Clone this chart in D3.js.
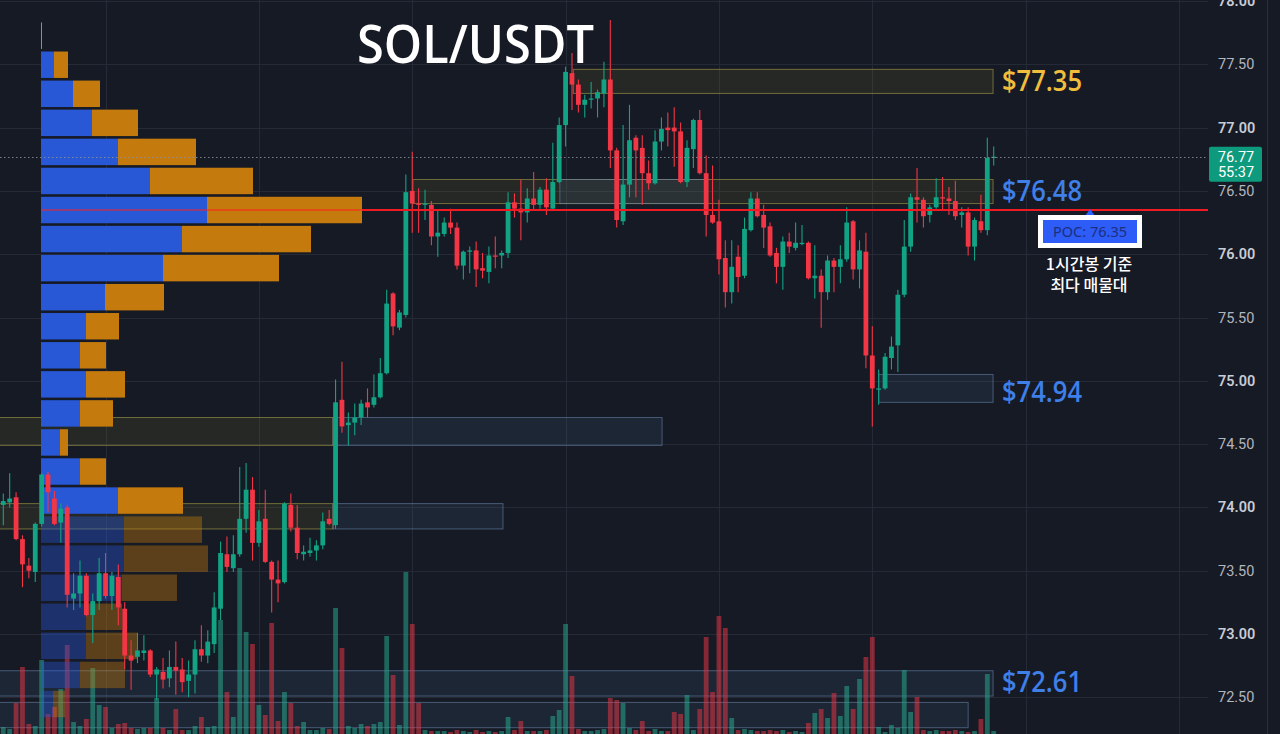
<!DOCTYPE html>
<html><head><meta charset="utf-8">
<script src="https://cdn.jsdelivr.net/npm/d3@7"></script>
<style>html,body{margin:0;padding:0;background:#161a25;overflow:hidden}</style>
</head><body><svg id="c" width="1280" height="734"></svg>
<script>
// ---------- DATA ----------
const ohlc = [
[74.02,74.11,73.86,74.05],[74.04,74.27,74.00,74.07],[74.08,74.12,73.74,73.75],[73.75,73.78,73.37,73.55],[73.54,73.60,73.44,73.50],
[73.49,73.88,73.41,73.87],[73.87,74.27,73.85,74.26],[74.26,74.28,73.96,74.12],[74.07,74.13,73.86,73.87],[73.88,74.03,73.72,73.99],
[74.00,74.02,73.21,73.31],[73.28,73.48,73.19,73.32],[73.32,73.58,73.21,73.46],[73.46,73.48,73.14,73.15],[73.15,73.32,72.93,73.26],
[73.26,73.60,73.19,73.48],[73.48,73.64,73.28,73.30],[73.30,73.49,73.19,73.46],[73.45,73.55,73.07,73.21],[73.20,73.25,72.72,72.83],
[72.83,72.95,72.56,72.79],[72.82,73.01,72.77,72.87],[72.85,72.99,72.79,72.87],[72.87,72.88,72.66,72.68],[72.68,72.74,72.48,72.72],
[72.70,72.81,72.57,72.64],[72.65,72.87,72.58,72.74],[72.74,72.94,72.52,72.71],[72.72,72.81,72.54,72.62],[72.63,72.79,72.50,72.68],
[72.68,72.95,72.53,72.88],[72.88,73.07,72.78,72.83],[72.83,73.03,72.77,72.94],[72.92,73.33,72.85,73.21],[73.20,73.73,73.11,73.64],
[73.63,73.77,73.49,73.53],[73.52,73.78,73.49,73.63],[73.63,74.32,73.61,73.91],[73.91,74.35,73.80,74.14],[74.14,74.24,73.58,73.72],
[73.72,73.98,73.69,73.89],[73.91,74.14,73.56,73.57],[73.57,73.58,73.17,73.43],[73.43,73.58,73.25,73.40],[73.41,74.04,73.40,74.03],
[74.02,74.11,73.81,73.84],[73.84,74.02,73.59,73.64],[73.63,73.70,73.58,73.65],[73.64,73.76,73.61,73.66],[73.66,73.74,73.58,73.70],
[73.70,73.96,73.67,73.89],[73.91,73.98,73.86,73.87],[73.86,75.01,73.83,74.83],[74.85,75.15,74.59,74.64],[74.65,74.75,74.49,74.67],
[74.67,74.82,74.57,74.71],[74.71,74.85,74.65,74.82],[74.83,74.94,74.71,74.79],[74.81,75.05,74.79,74.87],[74.87,75.18,74.86,75.06],
[75.06,75.72,75.05,75.61],[75.69,75.70,75.36,75.43],[75.42,75.56,75.40,75.54],[75.52,76.63,75.50,76.49],[76.50,76.81,76.17,76.40],
[76.40,76.52,76.17,76.39],[76.39,76.51,76.27,76.40],[76.39,76.42,76.07,76.14],[76.14,76.35,75.98,76.17],[76.16,76.29,76.14,76.25],
[76.25,76.36,76.16,76.21],[76.21,76.25,75.88,75.91],[75.91,76.03,75.80,76.02],[76.02,76.06,75.85,76.03],[76.03,76.10,75.74,75.88],
[75.89,76.01,75.81,75.87],[75.86,76.06,75.77,75.99],[75.99,76.14,75.89,75.98],[75.99,76.03,75.89,76.01],[76.01,76.49,75.97,76.41],
[76.41,76.48,76.29,76.36],[76.36,76.59,76.11,76.33],[76.33,76.52,76.25,76.44],[76.44,76.65,76.35,76.39],[76.39,76.53,76.36,76.51],
[76.51,76.60,76.31,76.37],[76.36,76.88,76.35,76.57],[76.57,77.08,76.56,77.02],[77.02,77.48,76.85,77.44],[77.43,77.59,77.14,77.34],
[77.34,77.38,77.12,77.18],[77.18,77.26,77.08,77.22],[77.22,77.36,77.15,77.23],[77.23,77.30,77.08,77.28],[77.27,77.52,77.16,77.38],
[77.38,77.85,76.68,76.82],[76.82,76.84,76.21,76.27],[76.26,77.02,76.23,76.55],[76.55,77.18,76.45,76.90],[76.92,76.94,76.45,76.82],
[76.84,76.94,76.39,76.64],[76.64,76.74,76.51,76.56],[76.56,76.98,76.55,76.89],[76.89,77.08,76.82,76.99],[77.00,77.12,76.85,76.98],
[77.00,77.16,76.69,76.97],[76.97,77.04,76.56,76.57],[76.57,76.90,76.53,76.84],[76.83,77.07,76.68,77.06],[77.06,77.14,76.63,76.64],
[76.64,76.78,76.14,76.31],[76.31,76.70,76.24,76.25],[76.26,76.43,75.84,75.96],[75.97,76.11,75.58,75.70],[75.70,76.11,75.61,75.90],
[75.98,76.07,75.70,75.82],[75.83,76.29,75.81,76.20],[76.19,76.49,76.18,76.44],[76.44,76.49,76.29,76.30],[76.31,76.39,76.05,76.21],
[76.22,76.25,75.98,75.99],[76.01,76.05,75.77,75.90],[75.90,76.14,75.72,76.10],[76.10,76.17,76.01,76.06],[76.05,76.25,76.03,76.09],
[76.08,76.23,76.07,76.09],[76.09,76.10,75.80,75.81],[75.81,76.07,75.65,75.83],[75.83,75.88,75.42,75.70],[75.70,75.99,75.64,75.95],
[75.95,75.97,75.70,75.90],[75.90,76.07,75.77,75.96],[75.96,76.37,75.94,76.25],[76.26,76.27,75.80,75.88],[75.88,76.11,75.73,76.03],
[76.02,76.17,75.10,75.20],[75.20,75.43,74.64,74.94],[74.93,75.09,74.81,74.94],[74.94,75.22,74.93,75.19],[75.18,75.35,75.09,75.27],
[75.28,75.72,75.07,75.68],[75.68,76.27,75.66,76.06],[76.06,76.48,76.02,76.45],[76.45,76.68,76.25,76.43],[76.43,76.45,76.21,76.30],
[76.31,76.39,76.25,76.37],[76.37,76.60,76.36,76.45],[76.45,76.61,76.35,76.44],[76.44,76.53,76.31,76.42],[76.42,76.58,76.27,76.30],
[76.31,76.37,76.21,76.33],[76.33,76.37,75.99,76.06],[76.06,76.29,75.95,76.27],[76.26,76.47,76.17,76.19],[76.19,76.92,76.15,76.76],
[76.76,76.85,76.70,76.77]
];
const volumes = [
7,5,31,67,10,8,74,20,27,45, 89,12,8,15,66,29,27,6,10,11,
6,5,6,6,36,6,4,25,4,4, 8,17,7,8,114,42,17,166,102,90,
29,19,111,13,42,31,8,12,4,4, 6,5,126,86,8,6,10,8,10,12,
98,59,9,162,110,31,4,3,3,3, 2,4,3,2,4,2,3,2,3,17,
4,13,3,3,3,4,18,24,110,58, 5,3,3,4,5,36,34,31,6,4,
13,3,5,3,3,22,20,39,4,25, 97,42,118,106,16,4,5,4,3,3,
4,3,4,2,3,2,11,21,25,16, 41,18,48,25,55,77,97,7,2,9,
6,64,22,37,4,3,4,3,3,4, 3,2,3,15,60,3
];
const profileBuy  = [0,13,32,51,77,109,166,141,122,64,45,39,45,39,19,39,77,83,83,81,45,45,39,12];
const profileSell = [0,14,27,46,78,103,155,129,116,59,33,26,39,33,8,26,65,78,84,55,36,51,45,12];
const profileTop = 77.84, profileStep = 0.2295, profileDimFrom = 17;
const pocPrice = 76.35, lastPrice = 76.77, countdown = "55:37";
const yTicks = [72.5,73.0,73.5,74.0,74.5,75.0,75.5,76.0,76.5,77.0,77.5,78.0];
const timeTicks = [16,40,64,88,112,136,160,184];
const zoneStart = [89.2,64.1,87.1,137.0,-0.6,51.6,-0.6,51.6,-0.6,-0.6];
const zoneEnd   = [154.9,154.9,109.8,154.9,51.6,103.1,51.6,78.2,154.9,151.0];
const zoneTop   = [77.46,76.59,76.59,75.05,74.71,74.71,74.03,74.03,72.71,72.46];
const zoneBot   = [77.27,76.40,76.40,74.83,74.49,74.49,73.83,73.83,72.51,72.26];
const zoneKind  = ["y","y","b","b","y","b","y","b","b","b"];
const levelLabels = ["$77.35","$76.48","$74.94","$72.61"];
const levelAt     = [77.37,76.50,74.91,72.62];
const levelKind   = ["y","b","b","b"];

// ---------- CHART ----------
const svg = d3.select("#c");
const W = 1280, H = 734, plotR = 1208;
const x = d3.scaleLinear().domain([0,155]).range([3.3,993.7]);
const y = d3.scaleLinear().domain([72.2,78]).range([735.3,1]);
const vy = d3.scaleLinear().domain([0,200]).range([734,534]);
const px = d3.scaleLinear().domain([0,100]).range([41,141]);

svg.append("rect").attr("width",W).attr("height",H).attr("fill","#161a25");

// grid
const g = svg.append("g");
g.selectAll(".hg").data(yTicks).join("line")
  .attr("x1",0).attr("x2",plotR).attr("y1",d=>Math.round(y(d))+0.5).attr("y2",d=>Math.round(y(d))+0.5)
  .attr("stroke","#252a36").attr("stroke-width",1);
g.selectAll(".vg").data(timeTicks).join("line")
  .attr("x1",d=>Math.round(x(d))+0.5).attr("x2",d=>Math.round(x(d))+0.5).attr("y1",0).attr("y2",H)
  .attr("stroke","#252a36").attr("stroke-width",1);

// zones
const zi = d3.range(zoneStart.length);
svg.append("g").selectAll("rect").data(zi).join("rect")
  .attr("x",i=>x(zoneStart[i])).attr("width",i=>x(zoneEnd[i])-x(zoneStart[i]))
  .attr("y",i=>y(zoneTop[i])).attr("height",i=>y(zoneBot[i])-y(zoneTop[i]))
  .attr("fill",i=>zoneKind[i]==="y"?"rgba(125,118,45,0.16)":"rgba(80,110,150,0.14)")
  .attr("stroke",i=>zoneKind[i]==="y"?"rgba(170,160,70,0.6)":"rgba(110,140,180,0.55)")
  .attr("stroke-width",1);

// volume bars
svg.append("g").selectAll("rect").data(volumes).join("rect")
  .attr("x",(d,i)=>x(i)-2.4).attr("width",4.8)
  .attr("y",d=>vy(d)).attr("height",d=>vy(0)-vy(d))
  .attr("fill",(d,i)=>ohlc[i][3]>=ohlc[i][0]?"rgba(38,166,140,0.55)":"rgba(242,54,69,0.5)");

// volume profile
const rows = d3.range(profileBuy.length);
const prof = svg.append("g");
rows.forEach(k=>{
  const t = profileTop - k*profileStep, b = t - profileStep;
  const y0 = y(t)+1.2, h = y(b)-y(t)-2.6;
  const op = k>=profileDimFrom?0.4:1;
  if (profileBuy[k]===0 && profileSell[k]===0) {
    prof.append("line").attr("x1",px(0)+0.5).attr("x2",px(0)+0.5).attr("y1",y0).attr("y2",y0+h)
      .attr("stroke","#8a8e99").attr("stroke-width",1);
    return;
  }
  prof.append("rect").attr("x",px(0)).attr("width",px(profileBuy[k])-px(0)).attr("y",y0).attr("height",h)
    .attr("fill","#2958d6").attr("opacity",op);
  prof.append("rect").attr("x",px(profileBuy[k])).attr("width",px(profileBuy[k]+profileSell[k])-px(profileBuy[k]))
    .attr("y",y0).attr("height",h).attr("fill","#c47a0c").attr("opacity",op);
});

// candles
const cg = svg.append("g");
cg.selectAll("line").data(ohlc).join("line")
  .attr("x1",(d,i)=>x(i)).attr("x2",(d,i)=>x(i))
  .attr("y1",d=>y(d[1])).attr("y2",d=>y(d[2]))
  .attr("stroke",d=>d[3]>=d[0]?"#12a385":"#f23645").attr("stroke-width",1.1);
cg.selectAll("rect").data(ohlc).join("rect")
  .attr("x",(d,i)=>x(i)-2.4).attr("width",4.8)
  .attr("y",d=>y(Math.max(d[0],d[3])))
  .attr("height",d=>Math.max(1.2,Math.abs(y(d[0])-y(d[3]))))
  .attr("fill",d=>d[3]>=d[0]?"#12a385":"#f23645");

// POC line
const pocEnd = px(profileBuy[6]+profileSell[6]);
svg.append("line").attr("x1",px(0)).attr("x2",pocEnd).attr("y1",y(pocPrice)).attr("y2",y(pocPrice))
  .attr("stroke","#ff2020").attr("stroke-width",2).attr("opacity",0.5);
svg.append("line").attr("x1",pocEnd).attr("x2",plotR).attr("y1",y(pocPrice)).attr("y2",y(pocPrice))
  .attr("stroke","#f21a22").attr("stroke-width",2);

// last price dotted line
svg.append("line").attr("x1",0).attr("x2",plotR).attr("y1",Math.round(y(lastPrice))+0.5).attr("y2",Math.round(y(lastPrice))+0.5)
  .attr("stroke","#8d909a").attr("stroke-width",1).attr("stroke-dasharray","1.5,2.5").attr("opacity",0.85);

// level labels
svg.append("g").selectAll("text").data(levelLabels).join("text")
  .attr("x",1002).attr("y",(d,i)=>y(levelAt[i])+10)
  .attr("font-family","'Open Sans', 'Noto Sans', sans-serif").attr("font-size",28).attr("font-weight",600)
  .attr("textLength",80).attr("lengthAdjust","spacingAndGlyphs")
  .attr("fill",(d,i)=>levelKind[i]==="y"?"#f0bd3c":"#3f7fe8")
  .text(d=>d);

// title
svg.append("text").attr("x",357).attr("y",63).attr("fill","#ffffff")
  .attr("font-family","'Open Sans', 'Noto Sans', sans-serif").attr("font-size",52).attr("font-weight",600)
  .attr("textLength",237).attr("lengthAdjust","spacingAndGlyphs").text("SOL/USDT");

// POC annotation
const pocY = y(pocPrice);
svg.append("path").attr("d",`M1090,${pocY-1} L1085,${pocY+6} L1095,${pocY+6} Z`).attr("fill","#2962ff");
svg.append("rect").attr("x",1038).attr("y",215).attr("width",104).attr("height",33).attr("fill","#ffffff");
svg.append("rect").attr("x",1043).attr("y",220).attr("width",94).attr("height",23).attr("fill","#2d5cf6");
svg.append("text").attr("x",1090).attr("y",237).attr("text-anchor","middle")
  .attr("font-family","'Noto Sans', sans-serif").attr("font-size",14.5).attr("fill","#1c2f80")
  .text("POC: " + pocPrice.toFixed(2));
svg.append("text").attr("x",1089).attr("y",270).attr("text-anchor","middle")
  .attr("font-family","'Noto Sans CJK KR', sans-serif").attr("font-size",16).attr("font-weight",500).attr("fill","#ffffff").text("1시간봉 기준");
svg.append("text").attr("x",1089).attr("y",291).attr("text-anchor","middle")
  .attr("font-family","'Noto Sans CJK KR', sans-serif").attr("font-size",16).attr("font-weight",500).attr("fill","#ffffff").text("최다 매물대");

// price axis
svg.append("line").attr("x1",1267.5).attr("x2",1267.5).attr("y1",0).attr("y2",H).attr("stroke","#2b2f3a");
svg.append("g").selectAll("text").data(yTicks).join("text")
  .attr("x",1218).attr("y",d=>y(d)+5)
  .attr("font-family","Roboto, sans-serif").attr("font-size",14.5)
  .attr("font-weight",d=>Number.isInteger(d)?600:400)
  .attr("fill",d=>Number.isInteger(d)?"#c9ccd4":"#b2b5be")
  .text(d=>d.toFixed(2));

// last price tag
const ly = y(lastPrice);
svg.append("rect").attr("x",1209).attr("y",ly-10).attr("width",53).attr("height",35).attr("rx",2).attr("fill","#0e9a7c");
svg.append("text").attr("x",1236).attr("y",ly+5).attr("text-anchor","middle")
  .attr("font-family","Roboto, sans-serif").attr("font-size",14.5).attr("fill","#ffffff").text(lastPrice.toFixed(2));
svg.append("text").attr("x",1236).attr("y",ly+20).attr("text-anchor","middle")
  .attr("font-family","Roboto, sans-serif").attr("font-size",14.5).attr("fill","#ffffff").text(countdown);
</script></body></html>
